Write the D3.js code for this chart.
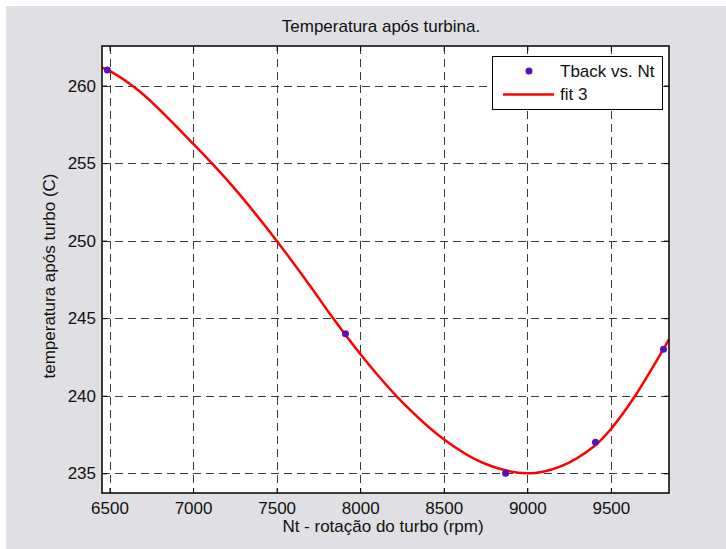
<!DOCTYPE html>
<html>
<head>
<meta charset="utf-8">
<script src="https://cdn.jsdelivr.net/npm/d3@7"></script>
<style>
  body { margin: 0; background: #fff; }
  svg text { font-family: "Liberation Sans", Arial, sans-serif; fill: #111; }
</style>
</head>
<body>
<div id="chart"></div>
<script>
// measured points
const nt = [6487, 7912, 8870, 9408, 9815];
const tback = [261, 244, 235, 237, 243];

// fit 3 curve
const fitX = [6455, 6500, 6683, 7000, 7241, 7500, 7719, 7824, 8000, 8224, 8500, 8740, 9000, 9200, 9400, 9500, 9640, 9740, 9820, 9848];
const fitY = [261.15, 260.95, 259.6, 256.25, 253.45, 250.0, 246.8, 245.2, 242.7, 239.9, 237.2, 235.65, 235.0, 235.45, 236.75, 237.85, 239.9, 241.65, 243.1, 243.65];

const xTicks = [6500, 7000, 7500, 8000, 8500, 9000, 9500];
const yTicks = [235, 240, 245, 250, 255, 260];

const W = 726, H = 549;
const plot = {left: 102, top: 46, right: 669, bottom: 493};
const fontSize = '17px';

const svg = d3.select('#chart').append('svg')
    .attr('width', W)
    .attr('height', H);

// figure background
svg.append('rect')
    .attr('x', 6).attr('y', 6)
    .attr('width', W - 6).attr('height', H - 6)
    .attr('fill', '#e0dfe3');

let x = d3.scaleLinear().domain([6455, 9848]).range([plot.left, plot.right]);
let y = d3.scaleLinear().domain([233.73, 262.55]).range([plot.bottom, plot.top]);

svg.append('rect')
    .attr('x', plot.left).attr('y', plot.top)
    .attr('width', plot.right - plot.left)
    .attr('height', plot.bottom - plot.top)
    .attr('fill', '#fff');

// grid
let grid = svg.append('g')
    .attr('stroke', '#3a3a3a')
    .attr('stroke-width', 1)
    .attr('stroke-dasharray', '8,5');

grid.selectAll('.vg')
    .data(xTicks)
    .enter()
    .append('line')
    .attr('x1', d => Math.round(x(d)) + 0.5)
    .attr('x2', d => Math.round(x(d)) + 0.5)
    .attr('y1', plot.top)
    .attr('y2', plot.bottom);

grid.selectAll('.hg')
    .data(yTicks)
    .enter()
    .append('line')
    .attr('y1', d => Math.round(y(d)) + 0.5)
    .attr('y2', d => Math.round(y(d)) + 0.5)
    .attr('x1', plot.left)
    .attr('x2', plot.right);

// axes, ticks pointing inward
let xAxis = svg.append('g')
    .attr('transform', 'translate(0,' + plot.bottom + ')')
    .call(d3.axisBottom(x).tickValues(xTicks).tickSize(-5).tickPadding(9).tickFormat(d3.format('d')));
let xTop = svg.append('g')
    .attr('transform', 'translate(0,' + plot.top + ')')
    .call(d3.axisTop(x).tickValues(xTicks).tickSize(-5).tickFormat(''));
let yAxis = svg.append('g')
    .attr('transform', 'translate(' + plot.left + ',0)')
    .call(d3.axisLeft(y).tickValues(yTicks).tickSize(-5).tickPadding(6).tickFormat(d3.format('d')));
let yRight = svg.append('g')
    .attr('transform', 'translate(' + plot.right + ',0)')
    .call(d3.axisRight(y).tickValues(yTicks).tickSize(-5).tickFormat(''));

[xAxis, xTop, yAxis, yRight].forEach(function(g) {
    g.select('.domain').remove();
    g.selectAll('line').attr('stroke', '#000');
    g.selectAll('text').attr('font-size', fontSize).attr('font-family', '"Liberation Sans", Arial, sans-serif');
});

// fit line
let pts = fitX.map((v, i) => [v, fitY[i]]);
let line = d3.line()
    .x(d => x(d[0]))
    .y(d => y(d[1]))
    .curve(d3.curveCatmullRom.alpha(0.5));

svg.append('defs').append('clipPath').attr('id', 'clip')
    .append('rect')
    .attr('x', plot.left).attr('y', plot.top)
    .attr('width', plot.right - plot.left)
    .attr('height', plot.bottom - plot.top);

svg.append('path')
    .datum(pts)
    .attr('clip-path', 'url(#clip)')
    .attr('d', line)
    .attr('fill', 'none')
    .attr('stroke', '#ff0000')
    .attr('stroke-width', 2.5);

// data points
svg.selectAll('.dot')
    .data(nt)
    .enter()
    .append('circle')
    .attr('cx', d => x(d))
    .attr('cy', (d, i) => y(tback[i]))
    .attr('r', 3.5)
    .attr('fill', '#5a10b8');

// frame
svg.append('rect')
    .attr('x', plot.left).attr('y', plot.top)
    .attr('width', plot.right - plot.left)
    .attr('height', plot.bottom - plot.top)
    .attr('fill', 'none')
    .attr('stroke', '#000')
    .attr('stroke-width', 1.5);

// titles
svg.append('text')
    .attr('x', 381)
    .attr('y', 32)
    .attr('text-anchor', 'middle')
    .attr('font-size', fontSize)
    .text('Temperatura após turbina.');

svg.append('text')
    .attr('x', 383)
    .attr('y', 532)
    .attr('text-anchor', 'middle')
    .attr('font-size', fontSize)
    .text('Nt - rotação do turbo (rpm)');

svg.append('text')
    .attr('transform', 'translate(55,276) rotate(-90)')
    .attr('text-anchor', 'middle')
    .attr('font-size', fontSize)
    .text('temperatura após turbo (C)');

// legend
let legend = svg.append('g');
legend.append('rect')
    .attr('x', 492.5).attr('y', 56.5)
    .attr('width', 170).attr('height', 53)
    .attr('fill', '#fff')
    .attr('stroke', '#000')
    .attr('stroke-width', 1);
legend.append('circle')
    .attr('cx', 529).attr('cy', 71)
    .attr('r', 3.5)
    .attr('fill', '#5a10b8');
legend.append('line')
    .attr('x1', 503).attr('x2', 554)
    .attr('y1', 94.5).attr('y2', 94.5)
    .attr('stroke', '#ff0000')
    .attr('stroke-width', 2.5);
legend.append('text')
    .attr('x', 560).attr('y', 77)
    .attr('font-size', fontSize)
    .text('Tback vs. Nt');
legend.append('text')
    .attr('x', 560).attr('y', 100)
    .attr('font-size', fontSize)
    .text('fit 3');
</script>
</body>
</html>
